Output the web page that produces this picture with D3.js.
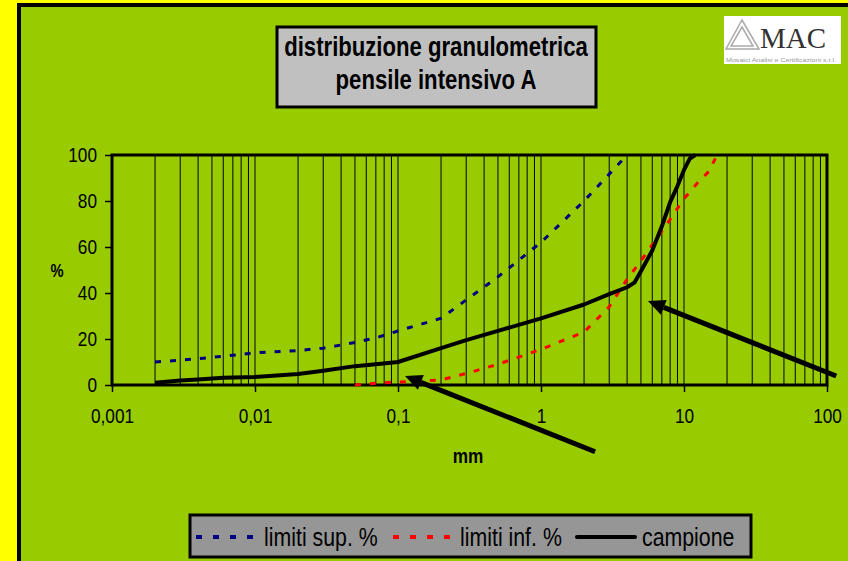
<!DOCTYPE html>
<html>
<head>
  <meta charset="utf-8">
  <title>distribuzione granulometrica</title>
  <script src="https://d3js.org/d3.v7.min.js"></script>
  <style>
    body { margin: 0; padding: 0; background: #ffff00; }
    svg text { font-family: "Liberation Sans", Arial, sans-serif; fill: #000; }
    .axis path { display: none; }
    .axis line { stroke: #000; stroke-width: 1.5; }
    .axis text { font-size: 21px; }
  </style>
</head>
<body>
<div id="chart"></div>
<script>
  // data
  var supX  = [0.002, 0.003, 0.004, 0.005, 0.006, 0.008, 0.01, 0.02, 0.03, 0.05, 0.07, 0.1, 0.2, 0.3, 0.5, 1, 2, 4]
  var supY  = [10, 10.8, 11.5, 12, 12.5, 13.3, 14, 15, 16, 18.5, 20.5, 23.5, 29, 37, 47, 62, 80, 100]

  var infX  = [0.05, 0.08, 0.1, 0.2, 0.3, 0.5, 1, 2, 3, 4, 5, 6, 8, 10, 12.5, 15, 17]
  var infY  = [0, 1, 1.3, 2.2, 5, 9, 15.5, 23, 34, 46, 54, 61, 72, 81, 88, 93, 100]

  var campX = [0.002, 0.003, 0.004, 0.006, 0.01, 0.02, 0.03, 0.05, 0.07, 0.1, 0.2, 0.3, 0.5, 1, 2, 3, 4, 4.5, 5, 6, 7, 8, 9, 10, 11, 12]
  var campY = [1, 2, 2.4, 3.2, 3.5, 4.8, 6.2, 8.2, 9, 10, 16, 19.5, 23.5, 29, 35, 39.5, 42.5, 44.5, 49.5, 58.5, 69, 79.5, 86.5, 93.5, 98.5, 100]

  var xTicks = [0.001, 0.01, 0.1, 1, 10, 100]
  var xTickLabels = ["0,001", "0,01", "0,1", "1", "10", "100"]
  var yTicks = [0, 20, 40, 60, 80, 100]

  var titleLines = ["distribuzione granulometrica", "pensile intensivo A"]
  var legendNames = ["limiti sup. %", "limiti inf. %", "campione"]

  // arrows, in data units: [fromX, fromY, toX, toY]
  var arrows = [
    [2.39, -29, 0.112, 3.9],
    [116, 3.9, 5.6, 36.5]
  ]

  var width = 848, height = 561
  var narrow = 0.82  // squeeze Liberation Sans to look like Arial Narrow

  var svg = d3.select("#chart").append("svg")
      .attr("width", width)
      .attr("height", height)
      .style("display", "block")

  // text helper, narrowed horizontally
  function addText(parent, tx, ty, str, size, weight, anchor) {
    return parent.append("text")
        .attr("transform", "translate(" + tx + "," + ty + ") scale(" + narrow + ",1)")
        .attr("text-anchor", anchor || "start")
        .style("font-size", size + "px")
        .style("font-weight", weight || "normal")
        .text(str)
  }

  // green chart area
  svg.append("rect")
      .attr("x", 19).attr("y", 5)
      .attr("width", 860).attr("height", 600)
      .attr("fill", "#99cc00")
      .attr("stroke", "#000")
      .attr("stroke-width", 4)

  var x = d3.scaleLog().domain([0.001, 100]).range([112, 827])
  var y = d3.scaleLinear().domain([0, 100]).range([385, 155])

  // vertical grid lines at every 1..9 x 10^k
  var grid = []
  for (var k = -3; k < 2; k++) {
    for (var m = 2; m <= 10; m++) grid.push(m * Math.pow(10, k))
  }
  svg.append("g").selectAll("line")
      .data(grid).enter().append("line")
      .attr("x1", function (d) { return x(d) })
      .attr("x2", function (d) { return x(d) })
      .attr("y1", y(0)).attr("y2", y(100))
      .attr("stroke", "#000")
      .attr("stroke-width", 1)

  // axes
  svg.append("g")
      .attr("class", "axis")
      .attr("transform", "translate(0," + y(0) + ")")
      .call(d3.axisBottom(x).tickValues(xTicks).tickSize(7).tickPadding(16)
        .tickFormat(function (d, i) { return xTickLabels[i] }))
      .selectAll("text")
      .attr("transform", "scale(" + narrow + ",1)")

  svg.append("g")
      .attr("class", "axis")
      .attr("transform", "translate(" + x(0.001) + ",0)")
      .call(d3.axisLeft(y).tickValues(yTicks).tickSize(7).tickPadding(8))
      .selectAll("text")
      .attr("x", -15 / narrow)
      .attr("transform", "scale(" + narrow + ",1)")

  // plot frame
  svg.append("rect")
      .attr("x", x(0.001)).attr("y", y(100))
      .attr("width", x(100) - x(0.001))
      .attr("height", y(0) - y(100))
      .attr("fill", "none")
      .attr("stroke", "#000")
      .attr("stroke-width", 3)

  // series
  var line = d3.line()
      .x(function (d) { return x(d[0]) })
      .y(function (d) { return y(d[1]) })

  var series = [
    { pts: d3.zip(supX, supY), color: "#000080", width: 3, dash: "6,9" },
    { pts: d3.zip(infX, infY), color: "#ff0000", width: 3, dash: "6,9" },
    { pts: d3.zip(campX, campY), color: "#000", width: 4, dash: null }
  ]

  svg.append("g").selectAll("path")
      .data(series).enter().append("path")
      .attr("d", function (d) { return line(d.pts) })
      .attr("fill", "none")
      .attr("stroke", function (d) { return d.color })
      .attr("stroke-width", function (d) { return d.width })
      .attr("stroke-dasharray", function (d) { return d.dash })
      .attr("stroke-linejoin", "round")

  // axis titles
  addText(svg, 57, 277, "%", 18, "bold", "middle")
  addText(svg, 468, 463, "mm", 21, "bold", "middle")

  // title box
  svg.append("rect")
      .attr("x", 277).attr("y", 27)
      .attr("width", 319).attr("height", 80)
      .attr("fill", "#c0c0c0")
      .attr("stroke", "#000")
      .attr("stroke-width", 3)

  titleLines.forEach(function (t, i) {
    addText(svg, 436, 56 + i * 33, t, 27, "bold", "middle")
  })

  // logo
  var logo = svg.append("g")
  logo.append("rect")
      .attr("x", 724).attr("y", 16)
      .attr("width", 117).attr("height", 48)
      .attr("fill", "#fff")
  logo.append("path")
      .attr("d", "M742,20 L759,49 L726,49 Z M742,27 L753,46 L731,46 Z")
      .attr("fill", "none")
      .attr("stroke", "#aaa")
      .attr("stroke-width", 1.5)
  logo.append("text")
      .attr("x", 760).attr("y", 48)
      .style("font-family", "'Liberation Serif', 'DejaVu Serif', serif")
      .style("font-size", "29px")
      .style("fill", "#333")
      .text("MAC")
  logo.append("text")
      .attr("x", 726).attr("y", 62)
      .attr("textLength", 110)
      .attr("lengthAdjust", "spacingAndGlyphs")
      .style("font-size", "5px")
      .style("fill", "#999")
      .text("Mosaici Analisi e Certificazioni s.r.l.")

  // arrows
  var arrowG = svg.append("g")
  arrows.forEach(function (a) {
    var x1 = x(a[0]), y1 = y(a[1]), x2 = x(a[2]), y2 = y(a[3])
    var ang = Math.atan2(y2 - y1, x2 - x1)
    var hl = 17, hw = 8
    var bx = x2 - hl * Math.cos(ang), by = y2 - hl * Math.sin(ang)
    arrowG.append("line")
        .attr("x1", x1).attr("y1", y1)
        .attr("x2", bx).attr("y2", by)
        .attr("stroke", "#000")
        .attr("stroke-width", 5)
    arrowG.append("path")
        .attr("d", "M" + x2 + "," + y2 +
          "L" + (bx + hw * Math.sin(ang)) + "," + (by - hw * Math.cos(ang)) +
          "L" + (bx - hw * Math.sin(ang)) + "," + (by + hw * Math.cos(ang)) + "Z")
        .attr("fill", "#000")
  })

  // legend
  var legend = svg.append("g")
  legend.append("rect")
      .attr("x", 190).attr("y", 515)
      .attr("width", 561).attr("height", 42)
      .attr("fill", "#969696")
      .attr("stroke", "#000")
      .attr("stroke-width", 3)

  var legendItems = [
    { name: legendNames[0], color: "#000080", dash: "6,11", lx: 196, tx: 264 },
    { name: legendNames[1], color: "#ff0000", dash: "6,11", lx: 393, tx: 460 },
    { name: legendNames[2], color: "#000", dash: null, lx: 577, tx: 642 }
  ]
  legendItems.forEach(function (d) {
    legend.append("line")
        .attr("x1", d.lx).attr("x2", d.lx + (d.dash ? 62 : 58))
        .attr("y1", 537).attr("y2", 537)
        .attr("stroke", d.color)
        .attr("stroke-width", 4)
        .attr("stroke-dasharray", d.dash)
        .attr("stroke-linecap", d.dash ? "butt" : "round")
    addText(legend, d.tx, 546, d.name, 26)
  })
</script>
</body>
</html>
